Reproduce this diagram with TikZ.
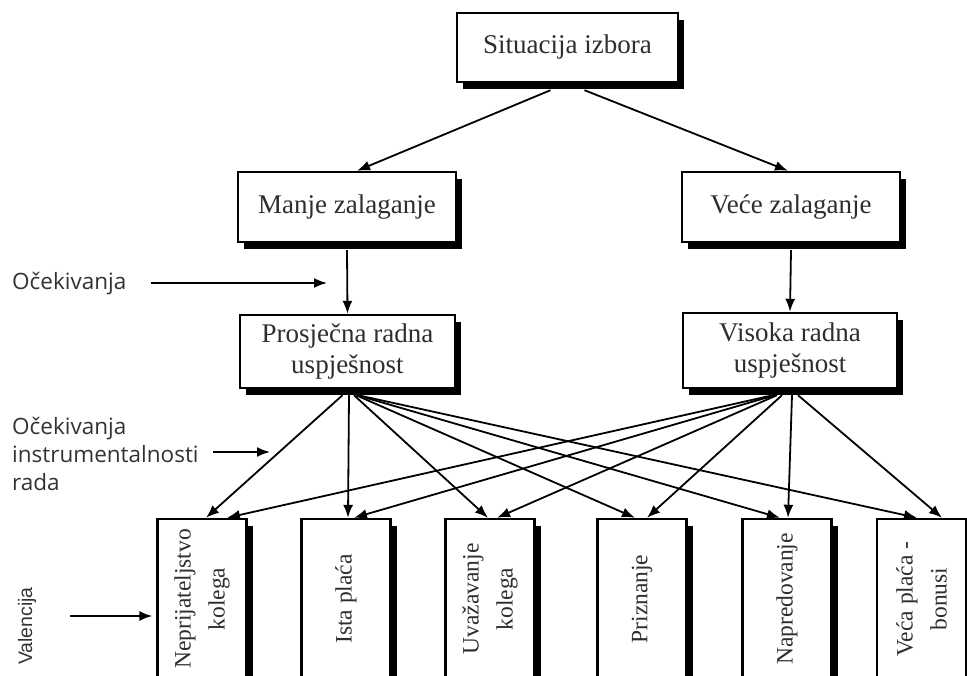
\documentclass[tikz,border=0pt]{standalone}
\usepackage{fontspec}
\setmainfont{Liberation Serif}
\newfontfamily\osans{Open Sans}
\newfontfamily\lsans{Liberation Sans}
\usetikzlibrary{arrows.meta,shadows}
\begin{document}
\begin{tikzpicture}[x=1pt,y=-1pt,
  box/.style={draw=black, line width=2.4pt, fill=white, rectangle, inner sep=0pt,
    drop shadow={shadow xshift=6pt, shadow yshift=-7pt, fill=black, opacity=1},
    font=\fontsize{27}{31}\selectfont, text=black!82, align=center},
  vbox/.style={box, minimum width=89pt, minimum height=160pt},
  vtext/.style={rotate=90, align=center, inner sep=0pt, font=\fontsize{23.5}{34}\selectfont, text=black!82},
  lbl/.style={font=\osans\fontsize{22.5}{28}\selectfont, text=black!80, align=left, inner sep=0pt},
  arr/.style={-{Latex[length=13pt,width=10pt]}, line width=1.8pt},
]
\useasboundingbox (0,0) rectangle (967,676);
\clip (0,0) rectangle (967,676);

% upper boxes
\node[box, minimum width=221pt, minimum height=69pt] (top) at (567.5,47.5) {Situacija izbora};
\node[box, minimum width=218pt, minimum height=70pt] (manje) at (347,207) {Manje zalaganje};
\node[box, minimum width=218pt, minimum height=70pt] (vece) at (791,207) {Veće zalaganje};
\node[box, minimum width=215pt, minimum height=73pt] (pro) at (347.5,351.5) {Prosječna radna\\uspješnost};
\node[box, minimum width=214pt, minimum height=75pt] (vis) at (790,350.5) {Visoka radna\\uspješnost};

% bottom boxes
\node[vbox] (b1) at (202,599) {};
\node[vtext] (t1) at (b1.center) {Neprijateljstvo\\kolega};
\node[vbox] (b2) at (346,599) {};
\node[vtext] (t2) at (b2.center) {Ista plaća};
\node[vbox] (b3) at (490,599) {};
\node[vtext] (t3) at (b3.center) {Uvažavanje\\kolega};
\node[vbox] (b4) at (642,599) {};
\node[vtext] (t4) at (b4.center) {Priznanje};
\node[vbox] (b5) at (787,599) {};
\node[vtext] (t5) at (b5.center) {Napredovanje};
\node[vbox] (b6) at (921.5,599) {};
\node[vtext] (t6) at (b6.center) {Veća plaća -\\bonusi};

% top connectors
\draw[arr] ([xshift=-17pt,yshift=-7pt]top.south) -- ([xshift=10pt]manje.north);
\draw[arr] ([xshift=17pt,yshift=-7pt]top.south) -- ([xshift=-3pt]vece.north);
\draw[arr] ([yshift=-7pt]manje.south) -- (pro.north);
\draw[arr] ([yshift=-7pt]vece.south) -- (vis.north);

% from Prosjecna
\draw[arr] ([xshift=-5pt,yshift=-6pt]pro.south) -- ([xshift=4pt]b1.north);
\draw[arr] ([xshift=1.5pt,yshift=-6pt]pro.south) -- ([xshift=2pt]b2.north);
\draw[arr] ([xshift=6.5pt,yshift=-6pt]pro.south) -- ([xshift=-2pt]b3.north);
\draw[arr] ([xshift=8.5pt,yshift=-6pt]pro.south) -- ([xshift=-7pt]b4.north);
\draw[arr] ([xshift=9.5pt,yshift=-6pt]pro.south) -- ([xshift=-7pt]b5.north);
\draw[arr] ([xshift=10.5pt,yshift=-6pt]pro.south) -- ([xshift=-4.5pt]b6.north);

% from Visoka
\draw[arr] ([xshift=-17pt,yshift=-6pt]vis.south) -- ([xshift=25pt]b1.north);
\draw[arr] ([xshift=-15pt,yshift=-6pt]vis.south) -- ([xshift=8pt]b2.north);
\draw[arr] ([xshift=-13pt,yshift=-6pt]vis.south) -- ([xshift=7pt]b3.north);
\draw[arr] ([xshift=-8pt,yshift=-6pt]vis.south) -- ([xshift=5pt]b4.north);
\draw[arr] ([xshift=2pt,yshift=-6pt]vis.south) -- ([xshift=1pt]b5.north);
\draw[arr] ([xshift=8pt,yshift=-6pt]vis.south) -- ([xshift=20.5pt]b6.north);

% left labels
\node[lbl, anchor=west] (l1) at (12,284) {Očekivanja};
\coordinate (e1) at (327,283);
\draw[arr] ([xshift=24pt,yshift=1pt]l1.east) -- (e1);

\node[lbl, anchor=west] (l2) at (12,454) {Očekivanja\\instrumentalnosti\\rada};
\coordinate (e2) at (270,452);
\draw[arr] (213,452) -- (e2);

\node[font=\lsans\fontsize{19.5}{22}\selectfont, text=black!80, rotate=90, inner sep=0pt] (l3) at (27,626) {Valencija};
\coordinate (v0) at (70,616);
\draw[arr] (v0) -- ([xshift=-4pt,yshift=-17pt]b1.west);
\end{tikzpicture}
\end{document}
